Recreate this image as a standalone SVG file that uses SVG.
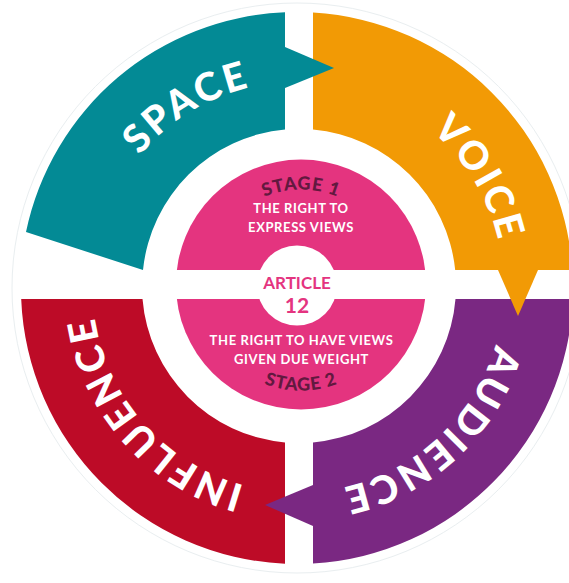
<svg xmlns="http://www.w3.org/2000/svg" width="569" height="583" viewBox="0 0 569 583">
<style>
.lbl{font-family:Lato,"Open Sans","Liberation Sans",sans-serif;font-weight:900;font-size:39px;fill:#fff;letter-spacing:3px}
.desc{font-family:Lato,"Open Sans","Liberation Sans",sans-serif;font-weight:700;font-size:13px;fill:#fff;text-anchor:middle;letter-spacing:0.6px}
.stage{font-family:Lato,"Open Sans","Liberation Sans",sans-serif;font-weight:900;font-size:18px;fill:#62193f;letter-spacing:0.8px}
.art{font-family:Lato,"Open Sans","Liberation Sans",sans-serif;font-weight:700;fill:#e4347f;text-anchor:middle}
</style>
<defs>
<path id="ring" d="M298,81.5 A205.5,205.5 0 1 1 298,492.5 A205.5,205.5 0 1 1 298,81.5"/>
<path id="topArc" d="M206,284.5 A95,95 0 0 1 396,284.5"/>
<path id="botArc" d="M195,284.5 A106,106 0 0 0 407,284.5"/>
</defs>
<rect width="569" height="583" fill="#fff"/>
<circle cx="297" cy="288" r="285" fill="none" stroke="#e9eef0" stroke-width="1"/>
<g id="influence">
<path d="M285,563.7 A276,276 0 0 1 21.2,299 L142.5,299 A157,157 0 0 0 285,442.4 Z" fill="#bd0b27"/>
<text class="lbl"><textPath href="#ring" startOffset="63.5%" text-anchor="middle">INFLUENCE</textPath></text>
</g>
<g id="audience">
<path d="M572.8,299 A276,276 0 0 1 313,563.5 L313,442.4 A157,157 0 0 0 455.5,299 Z" fill="#7a2882"/>
<text class="lbl"><textPath href="#ring" startOffset="38.1%" text-anchor="middle">AUDIENCE</textPath></text>
</g>
<g id="voice">
<path d="M313,12.5 A276,276 0 0 1 572.4,270 L455.2,270 A157,157 0 0 0 313,129.6 Z" fill="#f29a05"/>
<text class="lbl"><textPath href="#ring" startOffset="16.4%" text-anchor="middle">VOICE</textPath></text>
</g>
<g id="space">
<path d="M26,232 A276,276 0 0 1 285,12.3 L285,129.6 A157,157 0 0 0 143,270 Z" fill="#038a95"/>
<text class="lbl"><textPath href="#ring" startOffset="91.2%" text-anchor="middle">SPACE</textPath></text>
</g>
<g id="connectors">
<polygon points="285,47 334,68 285,88" fill="#038a95"/>
<polygon points="498,270 538,270 518,316" fill="#f29a05"/>
<polygon points="313,485 265,505 313,526" fill="#7a2882"/>
</g>
<g id="article12">
<circle cx="301" cy="284.5" r="125" fill="#e4347f"/>
<rect x="170" y="270" width="264" height="29" fill="#fff"/>
<circle cx="297" cy="285.5" r="40" fill="#fff"/>
<text class="art" x="297" y="289" font-size="17">ARTICLE</text>
<text class="art" x="297" y="313" font-size="21">12</text>
</g>
<g id="stage1">
<text class="stage"><textPath href="#topArc" startOffset="50%" text-anchor="middle">STAGE 1</textPath></text>
<text class="desc" x="301" y="213">THE RIGHT TO<tspan x="301" dy="19">EXPRESS VIEWS</tspan></text>
</g>
<g id="stage2">
<text class="desc" x="301.5" y="345">THE RIGHT TO HAVE VIEWS<tspan x="301.5" dy="18.5">GIVEN DUE WEIGHT</tspan></text>
<text class="stage"><textPath href="#botArc" startOffset="50%" text-anchor="middle">STAGE 2</textPath></text>
</g>
</svg>
